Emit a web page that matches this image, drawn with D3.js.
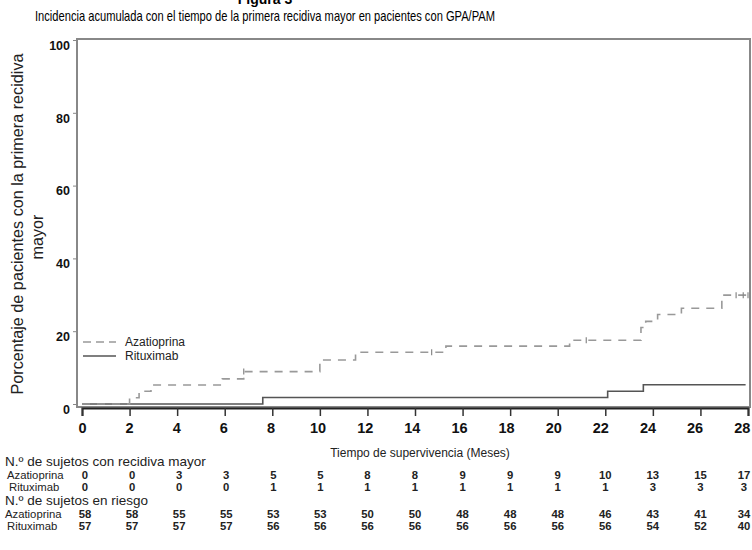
<!DOCTYPE html>
<html><head><meta charset="utf-8">
<script src="https://cdn.jsdelivr.net/npm/d3@7"></script>
<style>body{margin:0;background:#fff}svg{display:block;font-family:"Liberation Sans",Arial,sans-serif}</style>
</head><body><svg id="c" width="752" height="550"></svg>
<script>
// ---- data ----
const xTicks = [0,2,4,6,8,10,12,14,16,18,20,22,24,26,28];
const yTicks = [0,20,40,60,80,100];
// step points [month, cumulative %]
const azaSteps = [[0,0],[2.0,1.7],[2.4,3.5],[2.9,5.2],[5.9,6.9],[6.8,8.9],[10.0,12.1],[11.5,14.2],[15.3,15.9],[20.5,17.5],[23.5,21.0],[23.7,22.7],[24.2,24.6],[25.2,26.3],[26.9,29.9],[28,29.9]];
const rtxSteps = [[0,0],[7.6,1.8],[22.1,3.5],[23.6,5.3],[27.9,5.3]];
const azaCensor = [[6.8,8.9],[14.7,14.2],[21.2,17.5],[27.5,29.9],[27.8,29.9],[28,29.9]];
const relapseAza = [0,0,3,3,5,5,8,8,9,9,9,10,13,15,17];
const relapseRtx = [0,0,0,0,1,1,1,1,1,1,1,1,3,3,3];
const riskAza = [58,58,55,55,53,53,50,50,48,48,48,46,43,41,34];
const riskRtx = [57,57,57,57,56,56,56,56,56,56,56,56,54,52,40];
const series = ["Azatioprina","Rituximab"];

const svg = d3.select("#c");
const x = d3.scaleLinear().domain([0,28]).range([82,748]);
const y = d3.scaleLinear().domain([0,100]).range([404,40]);

// titles
svg.append("text").attr("x",265).attr("y",4).attr("text-anchor","middle")
  .attr("font-size",14).attr("font-weight","bold").text("Figura 3");
svg.append("text").attr("x",265).attr("y",21).attr("text-anchor","middle")
  .attr("font-size",14.5).attr("textLength",460).attr("lengthAdjust","spacingAndGlyphs")
  .text("Incidencia acumulada con el tiempo de la primera recidiva mayor en pacientes con GPA/PAM");

// frame
svg.append("rect").attr("x",77).attr("y",39).attr("width",673).attr("height",368)
  .attr("fill","none").attr("stroke","#888").attr("stroke-width",2);

// y axis
const yAxis = svg.append("g").attr("transform","translate(77,0)")
  .call(d3.axisLeft(y).tickValues(yTicks).tickSize(4).tickPadding(3));
yAxis.select(".domain").remove();
yAxis.selectAll("line").attr("stroke","#888");
yAxis.selectAll("text").attr("font-size",12.5).attr("font-weight","bold")
  .attr("font-family","Liberation Sans, Arial, sans-serif").attr("dy","0.75em").attr("fill","#111");

// x axis
const xAxis = svg.append("g").attr("transform","translate(0,408)")
  .call(d3.axisBottom(x).tickValues(xTicks).tickSize(8).tickPadding(7));
xAxis.select(".domain").attr("stroke","#222").attr("stroke-width",2);
xAxis.selectAll("line").attr("stroke","#333").attr("stroke-width",1.5);
xAxis.selectAll("text").attr("font-size",14.5).attr("font-weight","bold")
  .attr("font-family","Liberation Sans, Arial, sans-serif").attr("fill","#111")
  .attr("dx",(d,i)=>-(i*0.45));

// axis titles
svg.append("text").attr("transform","translate(23,224) rotate(-90)").attr("text-anchor","middle")
  .attr("font-size",16.2).attr("fill","#222").text("Porcentaje de pacientes con la primera recidiva");
svg.append("text").attr("transform","translate(43,237) rotate(-90)").attr("text-anchor","middle")
  .attr("font-size",16.2).attr("fill","#222").text("mayor");
svg.append("text").attr("x",420).attr("y",457).attr("text-anchor","middle")
  .attr("font-size",12).attr("fill","#222").text("Tiempo de supervivencia (Meses)");

// lines
const line = d3.line().x(d=>x(d[0])).y(d=>y(d[1])).curve(d3.curveStepAfter);
svg.append("path").datum(rtxSteps).attr("d",line).attr("fill","none")
  .attr("stroke","#555").attr("stroke-width",1.6);
svg.append("path").datum(azaSteps).attr("d",line).attr("fill","none")
  .attr("stroke","#999").attr("stroke-width",1.6).attr("stroke-dasharray","8,7");
svg.selectAll(".cens").data(azaCensor).enter().append("line")
  .attr("x1",d=>x(d[0])).attr("x2",d=>x(d[0])).attr("y1",d=>y(d[1])-3).attr("y2",d=>y(d[1])+3)
  .attr("stroke","#888").attr("stroke-width",1.2);

// legend
const lg = svg.append("g");
lg.append("line").attr("x1",83).attr("x2",116).attr("y1",342).attr("y2",342)
  .attr("stroke","#999").attr("stroke-width",1.6).attr("stroke-dasharray","8,5");
lg.append("line").attr("x1",83).attr("x2",116).attr("y1",356).attr("y2",356)
  .attr("stroke","#555").attr("stroke-width",1.6);
lg.append("text").attr("x",125).attr("y",346).attr("font-size",12).attr("fill","#222").text(series[0]);
lg.append("text").attr("x",125).attr("y",360).attr("font-size",12).attr("fill","#222").text(series[1]);

// risk table
svg.append("text").attr("x",5).attr("y",466).attr("font-size",13.5).attr("fill","#222").text("N.º de sujetos con recidiva mayor");
svg.append("text").attr("x",5).attr("y",505).attr("font-size",13.5).attr("fill","#222").text("N.º de sujetos en riesgo");
const rows = [
  {label:series[0], vals:relapseAza, y:479, lx:7},
  {label:series[1], vals:relapseRtx, y:491, lx:9},
  {label:series[0], vals:riskAza, y:518, lx:5},
  {label:series[1], vals:riskRtx, y:530, lx:7}
];
rows.forEach(r=>{
  svg.append("text").attr("x",r.lx).attr("y",r.y).attr("font-size",11.3).attr("fill","#222").text(r.label);
  svg.selectAll(null).data(r.vals).enter().append("text")
    .attr("x",(d,i)=>x(xTicks[i]) + (i<6 ? 3 - i*0.5 : 0) - (i===14 ? 4 : 0)).attr("y",r.y)
    .attr("text-anchor","middle").attr("font-size",11.3).attr("font-weight","bold").attr("fill","#222")
    .text(d=>d);
});
</script></body></html>
